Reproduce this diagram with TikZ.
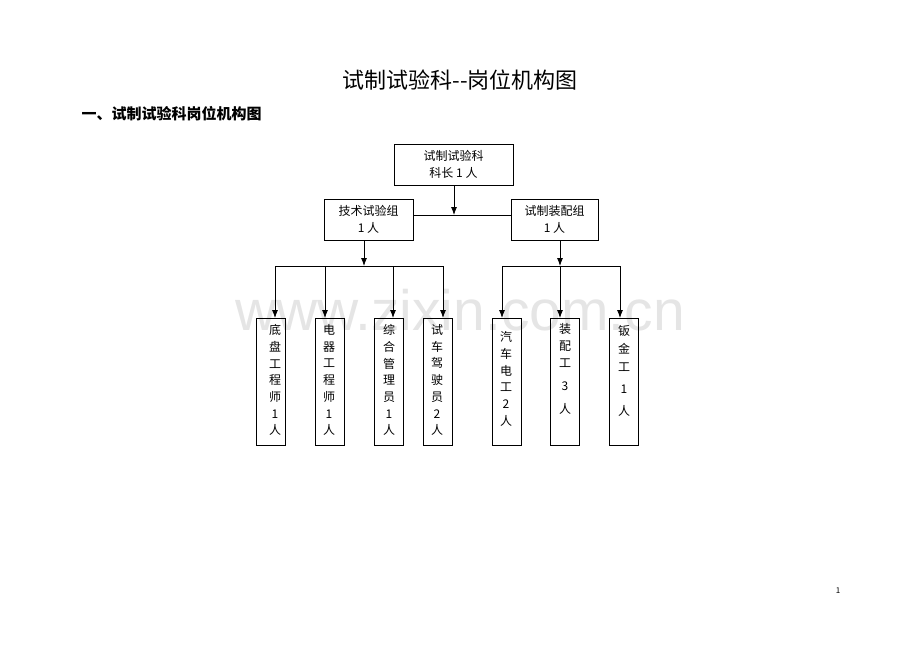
\documentclass[tikz,border=0pt]{standalone}
\usetikzlibrary{arrows.meta}
\usepackage{fontspec}
\setmainfont{Noto Sans CJK SC}
\newfontfamily\arialf{Liberation Sans}
\begin{document}
\begin{tikzpicture}[x=1pt,y=-1pt,
  box/.style={draw,line width=0.8pt,inner sep=0pt,font=\fontsize{12}{17}\selectfont,align=center},
  vbox/.style={draw,line width=0.8pt,minimum width=29pt,minimum height=127pt,inner sep=0pt,anchor=north west},
  vt/.style={font=\fontsize{12}{16.7}\selectfont,align=center,anchor=north},
  ln/.style={line width=0.8pt},
  ar/.style={line width=0.8pt,-{Latex[length=8pt,width=6pt]}}]
\useasboundingbox (0,0) rectangle (920,651);
\node[font=\arialf\fontsize{57}{57}\selectfont,text=black!10] (wm) at (460,310) {www.zixin.com.cn};
\node[font=\fontsize{22}{24}\selectfont] (title) at (460,80) {试制试验科{-}{-}岗位机构图};
\node[font=\bfseries\fontsize{15}{18}\selectfont,anchor=west] (h) at (78,114) {一、试制试验科岗位机构图};
\node[font=\fontsize{8}{8}\selectfont] (pg) at (838,591) {1};
\node[box,minimum width=119pt,minimum height=41pt] (top) at (453.5,164.5) {试制试验科\\科长 1 人};
\node[box,minimum width=89pt,minimum height=41pt] (L) at (368.5,219.5) {技术试验组\\1 人};
\node[box,minimum width=87pt,minimum height=41pt] (R) at (554.5,219.5) {试制装配组\\1 人};
\coordinate (jm) at (454,215);
\draw[ln] (L.east |- jm) -- (R.west |- jm);
\draw[ar] (top.south -| jm) -- (jm);
\node[vbox] (b1) at (256,318) {};
\node[vbox] (b2) at (315,318) {};
\node[vbox] (b3) at (374,318) {};
\node[vbox] (b4) at (423,318) {};
\node[vbox] (b5) at (492,318) {};
\node[vbox] (b6) at (550,318) {};
\node[vbox] (b7) at (609,318) {};
\node[vt] (t1) at (275,321) {底\\盘\\工\\程\\师\\1\\人};
\node[vt] (t2) at (329,321) {电\\器\\工\\程\\师\\1\\人};
\node[vt] (t3) at (389,321) {综\\合\\管\\理\\员\\1\\人};
\node[vt] (t4) at (437,321) {试\\车\\驾\\驶\\员\\2\\人};
\node[vt] (t5) at (506,328) {汽\\车\\电\\工\\2\\人};
\node[vt,font=\fontsize{12}{17}\selectfont] (t6) at (565,320) {装\\配\\工\\[6pt]3\\[6pt]人};
\node[vt,font=\fontsize{12}{18}\selectfont] (t7) at (624,322) {钣\\金\\工\\[4pt]1\\[4pt]人};
\coordinate (lj) at (364,266);
\coordinate (rj) at (560,266);
\draw[ar] (L.south -| lj) -- (lj);
\draw[ar] (R.south -| rj) -- (rj);
\draw[ln] (275,266) -- (443,266);
\draw[ln] (502,266) -- (620,266);
\foreach \b/\x in {b1/275,b2/325,b3/393,b4/443,b5/502,b6/560,b7/620}{
  \coordinate (c\b) at (\x,266);
  \draw[ar] (c\b) -- (c\b |- \b.north);}
\end{tikzpicture}
\end{document}
